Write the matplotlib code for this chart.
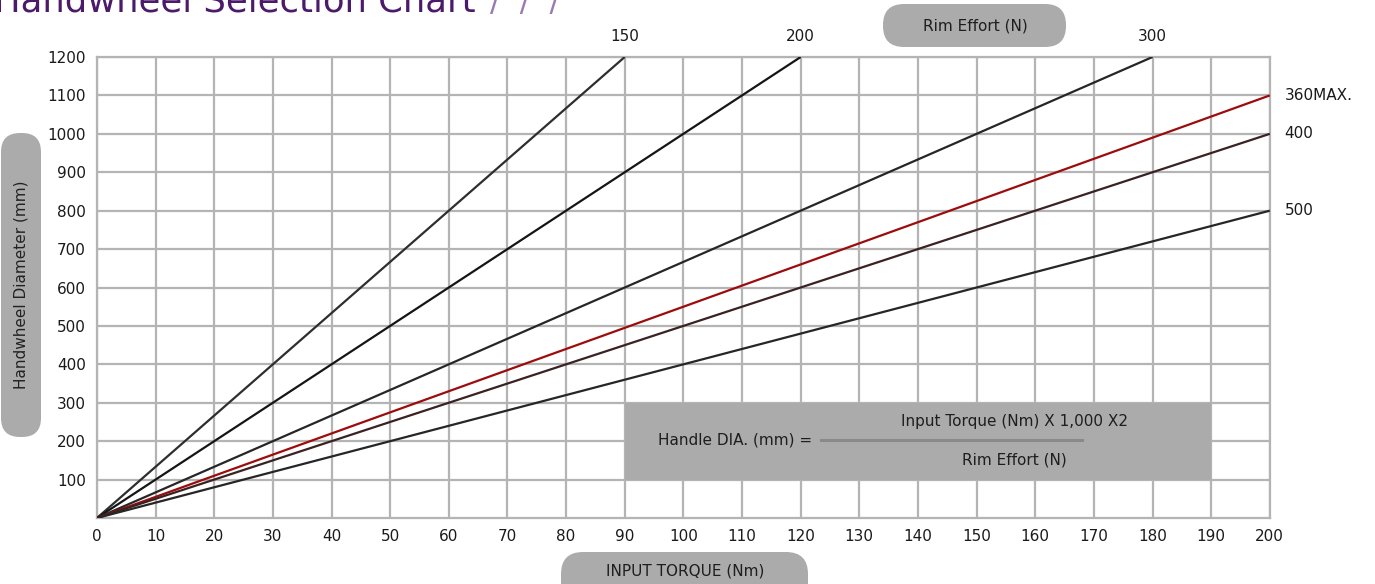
import matplotlib
matplotlib.use("Agg")
import matplotlib.pyplot as plt
from matplotlib.patches import FancyBboxPatch, Rectangle
from matplotlib.transforms import IdentityTransform
import numpy as np

rim_effort = ["150", "200", "300", "360MAX.", "400", "500"]
torque_end = [90, 120, 180, 200, 200, 200]
diameter_end = [1200, 1200, 1200, 1100, 1000, 800]
line_colors = ["#2e2e2e", "#151515", "#262626", "#9e0b0b", "#3a2222", "#262626"]

x_ticks = list(range(0, 201, 10))
y_ticks = list(range(100, 1201, 100))

plt.rcParams['font.family'] = ['DejaVu Sans']

fig = plt.figure(figsize=(13.75, 5.84), dpi=100)
ax = fig.add_axes([0.0705, 0.113, 0.853, 0.7894])

ax.set_xlim(0, 200)
ax.set_ylim(0, 1200)
ax.set_xticks(x_ticks)
ax.set_yticks(y_ticks)
ax.tick_params(length=0, labelsize=11, colors="#1a1a1a", pad=8)
ax.grid(True, color="#b4b4b4", linewidth=1.6)
ax.set_axisbelow(True)
for s in ax.spines.values():
    s.set_color("#b4b4b4")
    s.set_linewidth(1.6)

# formula panel
ax.add_patch(Rectangle((90, 100), 100, 200, facecolor="#ababab", edgecolor="none", zorder=2))
ax.text(122, 203, "Handle DIA. (mm) =", ha="right", va="center", fontsize=11, color="#1e1e1e", zorder=3)
ax.plot([123.5, 168], [203, 203], color="#8a8a8a", lw=2.2, zorder=3)
ax.text(156.5, 250, "Input Torque (Nm) X 1,000 X2", ha="center", va="center", fontsize=11, color="#1e1e1e", zorder=3)
ax.text(156.5, 152, "Rim Effort (N)", ha="center", va="center", fontsize=11, color="#1e1e1e", zorder=3)

for lab, xe, ye, c in zip(rim_effort, torque_end, diameter_end, line_colors):
    ax.plot([0, xe], [0, ye], color=c, lw=1.6, zorder=4, solid_capstyle="butt")
    if ye >= 1200:
        ax.text(xe, ye + 35, lab, ha="center", va="bottom", fontsize=11, color="#1a1a1a", clip_on=False)
    else:
        ax.text(xe + 2.5, ye, lab, ha="left", va="center", fontsize=11, color="#1a1a1a", clip_on=False)

# grey pill labels (pixel coords, origin bottom-left)
H = 584
def pill(x0, y0_top, x1, y1_top, r):
    p = FancyBboxPatch((x0 + r, H - y1_top + r), (x1 - x0) - 2 * r, (y1_top - y0_top) - 2 * r,
                       boxstyle="round,pad=%d,rounding_size=%d" % (r, r),
                       transform=IdentityTransform(), facecolor="#ababab", edgecolor="none")
    fig.add_artist(p)

pill(1, 133, 41, 437, 19)
fig.text(21 / 1375, 1 - 285 / H, "Handwheel Diameter (mm)", rotation=90, ha="center", va="center",
         fontsize=11, color="#222222")

pill(561, 552, 808, 620, 22)
fig.text(685 / 1375, 1 - 571 / H, "INPUT TORQUE (Nm)", ha="center", va="center", fontsize=11, color="#1e1e1e")

pill(883, 4, 1066, 47, 21)
fig.text(975 / 1375, 1 - 26 / H, "Rim Effort (N)", ha="center", va="center", fontsize=11, color="#1e1e1e")

# title, mostly cut off by the top edge in the source
fig.text(-0.004, 1 - 11 / H, "Handwheel Selection Chart", ha="left", va="baseline", fontsize=25.5, color="#4b1a6b")
fig.text(490 / 1375, 1 - 11 / H, "/  /  /", ha="left", va="baseline", fontsize=22, color="#9a7ab3")

fig.savefig("out.png", dpi=100)
